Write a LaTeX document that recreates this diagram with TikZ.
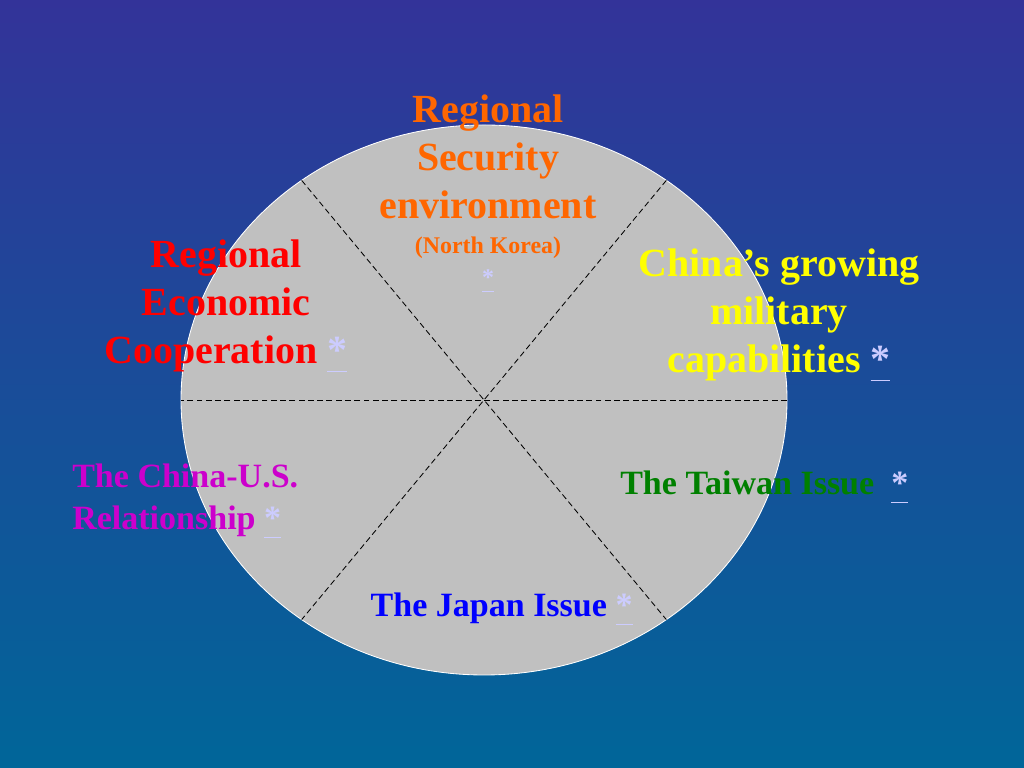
\documentclass[tikz,border=0pt]{standalone}
\usepackage{fontspec}
\setmainfont{Liberation Serif}
\usetikzlibrary{positioning}
\definecolor{topc}{RGB}{51,51,153}
\definecolor{botc}{RGB}{0,102,153}
\definecolor{discc}{RGB}{192,192,192}
\definecolor{orangec}{RGB}{255,102,0}
\definecolor{redc}{RGB}{255,0,0}
\definecolor{yellowc}{RGB}{255,255,0}
\definecolor{greenc}{RGB}{0,128,0}
\definecolor{bluec}{RGB}{0,0,255}
\definecolor{magc}{RGB}{204,0,204}
\definecolor{linkc}{RGB}{204,204,255}
\newcommand{\lnk}{\textcolor{linkc}{\underline{*\vphantom{,}}}}
\tikzset{
  big/.style={font=\fontsize{28.4}{34.1}\selectfont\bfseries, align=center, inner sep=0pt},
  mid/.style={font=\fontsize{24.2}{29.9}\selectfont\bfseries, inner sep=0pt},
  small/.style={font=\fontsize{17}{20}\selectfont\bfseries, inner sep=0pt}
}
\begin{document}
\begin{tikzpicture}
      \useasboundingbox (0,0) rectangle (25.6,19.2);
      \shade[top color=topc, bottom color=botc] (0,0) rectangle (25.6,19.2);
      \begin{scope}[shift={(12.1,9.2)}]
        \fill[discc, draw=white, line width=0.6pt] (0,0) ellipse (7.575 and 6.875);
        \path
          (0:7.575 and 6.875) coordinate (e0)
          (53:7.575 and 6.875) coordinate (e53)
          (127:7.575 and 6.875) coordinate (e127)
          (180:7.575 and 6.875) coordinate (e180)
          (233:7.575 and 6.875) coordinate (e233)
          (307:7.575 and 6.875) coordinate (e307);
      \end{scope}
      \begin{scope}[dash pattern=on 4.2pt off 2.4pt, line width=0.6pt]
        \draw (e0) to (e180);
        \draw (e53) to (e233);
        \draw (e127) to (e307);
      \end{scope}
      % labels
      \node[big, text=orangec] (security) at (12.2,15.28) {Regional\\Security\\environment};
      \node[small, text=orangec] (korea) at (12.2,13.0) {(North Korea)};
      \node[small, below=0.25 of korea] (koreastar) {\lnk};
      \node[big, text=redc] (economic) at (5.65,11.55) {Regional\\Economic\\Cooperation \lnk};
      \node[big, text=yellowc] (military) at (19.475,11.32) {China’s growing\\military\\capabilities \lnk};
      \node[mid, text=magc, align=left, anchor=west] (usrel) at (1.8,6.67) {The China-U.S.\\Relationship \lnk};
      \node[mid, text=greenc, anchor=west] (taiwan) at (15.5,7.03) {The Taiwan Issue~~\lnk};
      \node[mid, text=bluec] (japan) at (12.54,3.98) {The Japan Issue \lnk};
\end{tikzpicture}
\end{document}
